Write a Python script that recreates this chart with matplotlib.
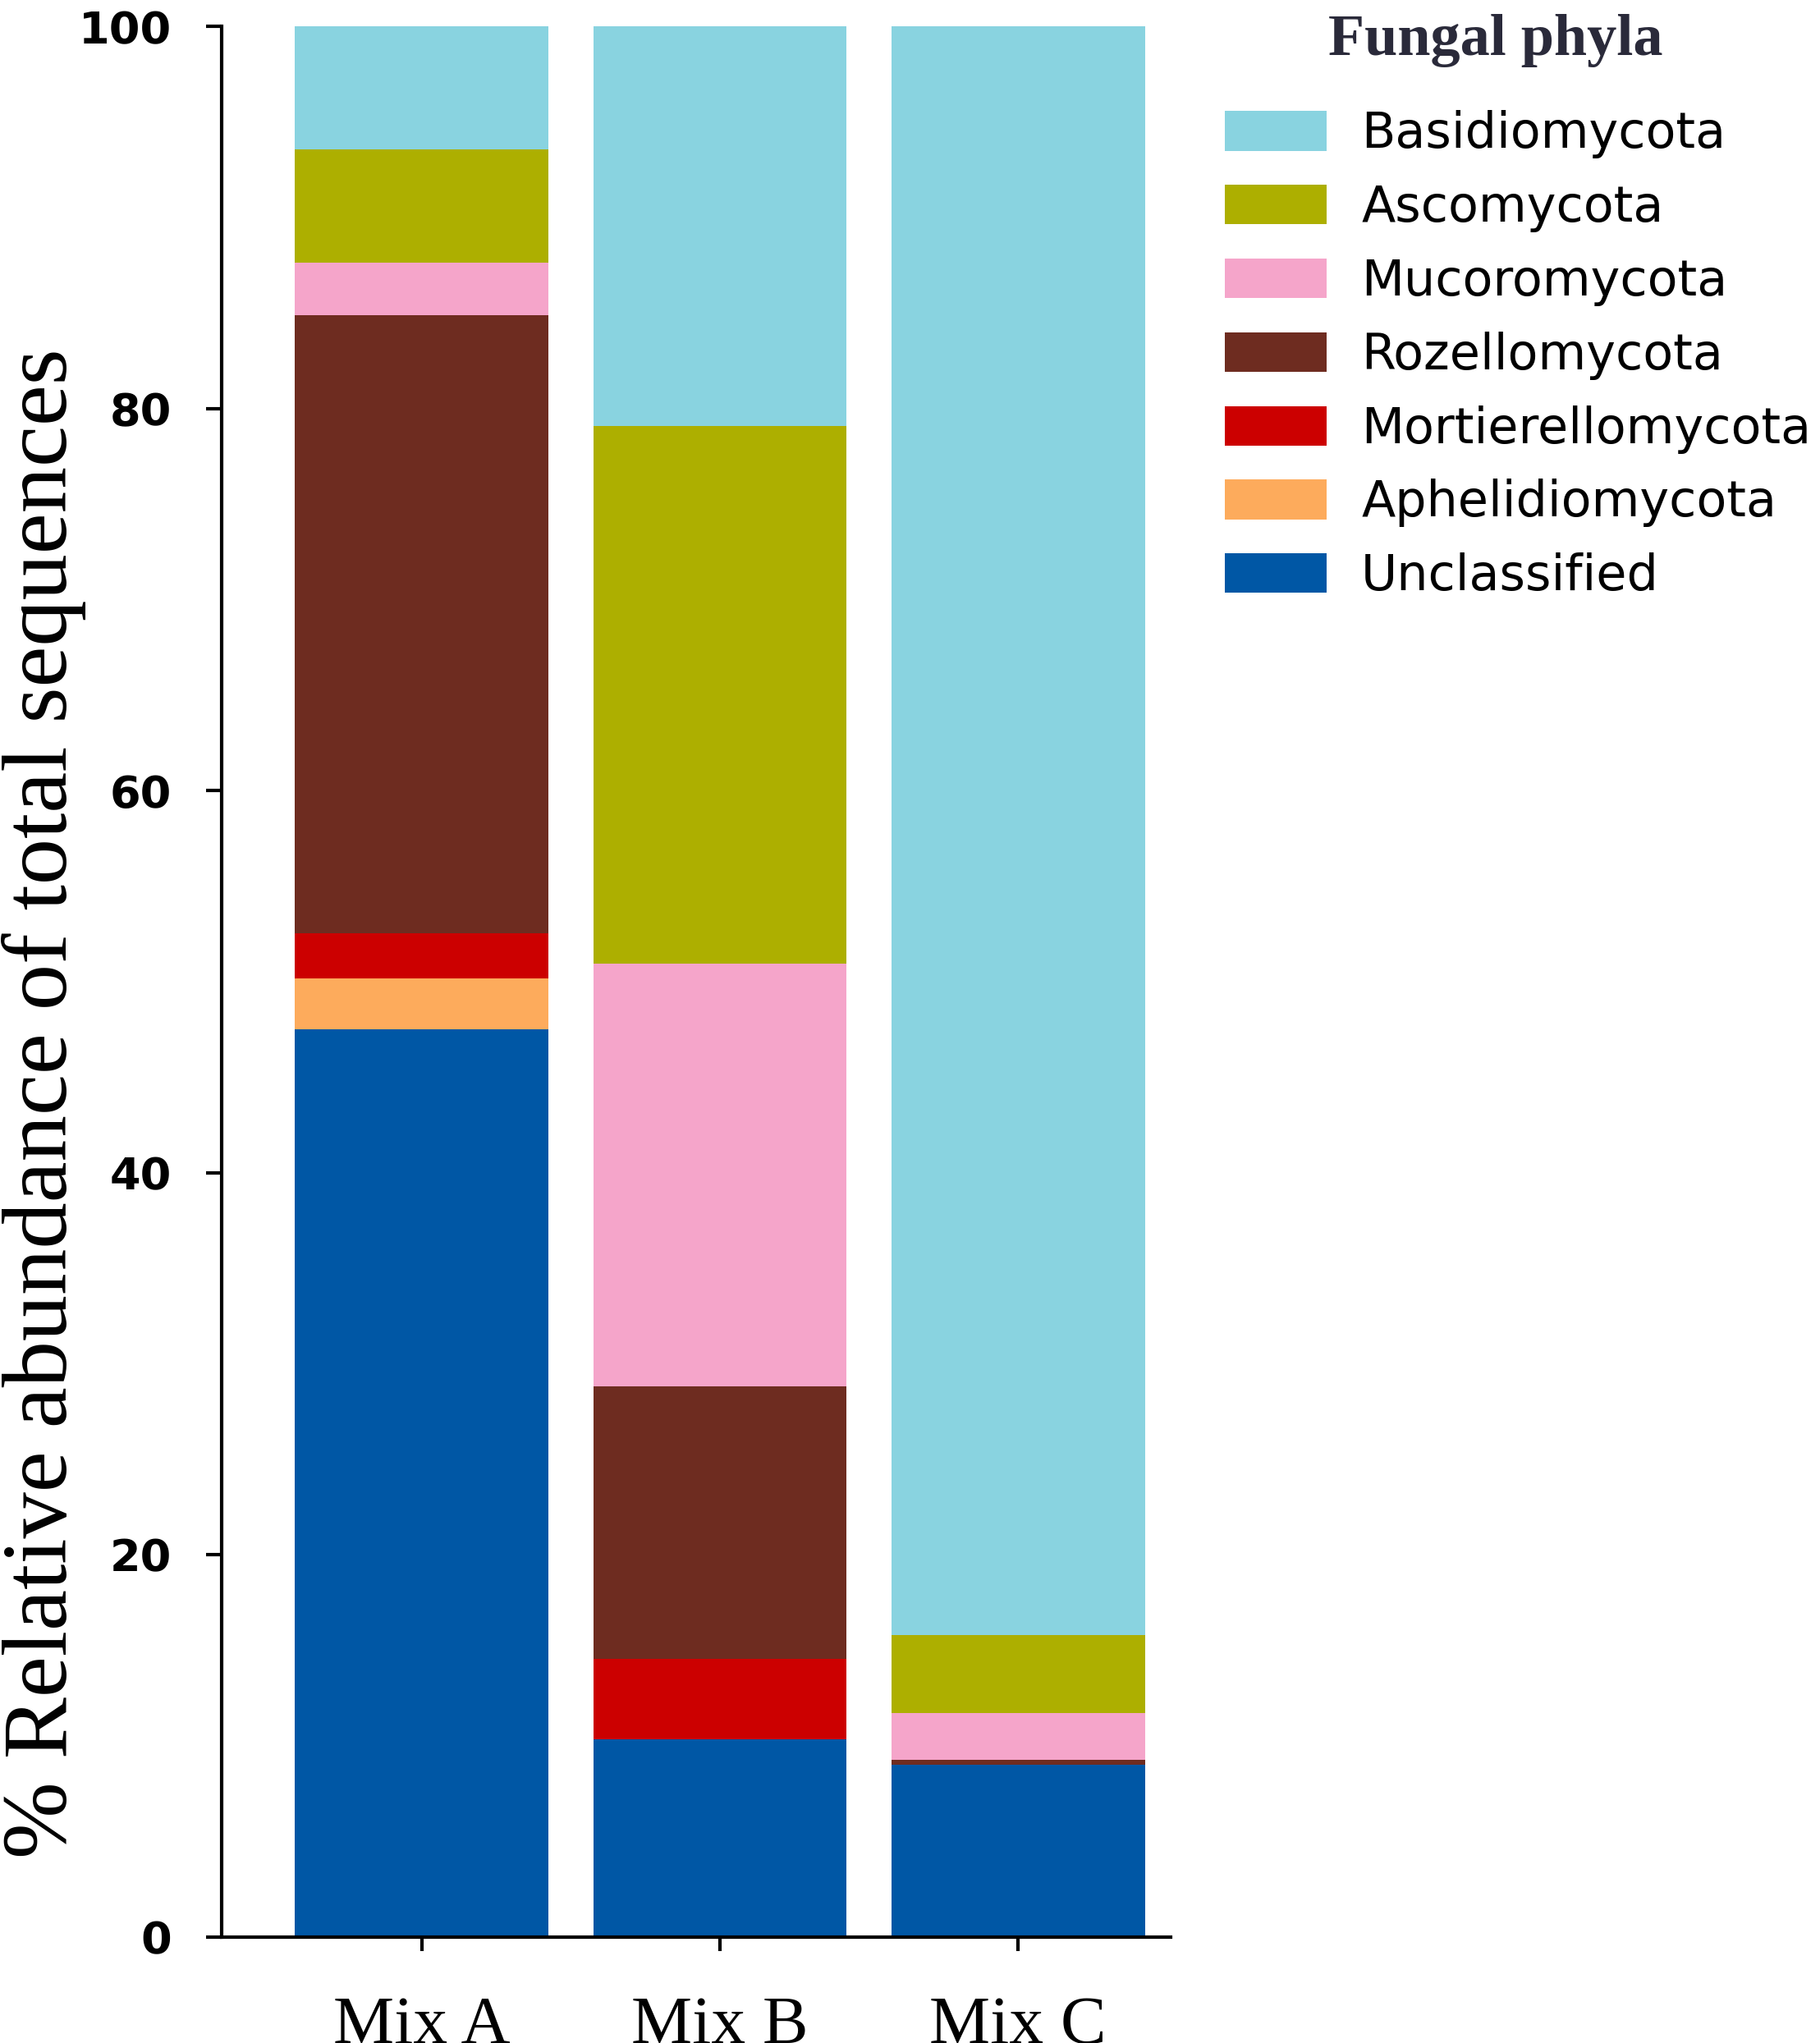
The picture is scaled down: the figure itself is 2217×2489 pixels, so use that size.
import numpy as np
import matplotlib.pyplot as plt

# Samples and phyla (stack order bottom -> top)
samples = ['Mix A', 'Mix B', 'Mix C']
phyla = ['Unclassified', 'Aphelidiomycota', 'Mortierellomycota', 'Rozellomycota',
         'Mucoromycota', 'Ascomycota', 'Basidiomycota']
colors = ['#0057A5', '#FDAB5C', '#CC0000', '#6E2C20', '#F5A5CA', '#ADAF00', '#89D3E0']

# % relative abundance
unclassified = [47.5, 10.35, 9.0]
aphelidiomycota = [2.65, 0.0, 0.0]
mortierellomycota = [2.4, 4.2, 0.0]
rozellomycota = [32.35, 14.25, 0.25]
mucoromycota = [2.75, 22.15, 2.45]
ascomycota = [5.9, 28.15, 4.1]
basidiomycota = [6.45, 20.9, 84.2]

series = [unclassified, aphelidiomycota, mortierellomycota, rozellomycota,
          mucoromycota, ascomycota, basidiomycota]

fig = plt.figure(figsize=(22.17, 24.89), dpi=100)
ax = fig.add_axes([0.122, 0.052, 0.521, 0.935])

x = np.arange(len(samples))
bottom = np.zeros(len(samples))
handles = []
for name, vals, c in zip(phyla, series, colors):
    b = ax.bar(x, vals, bottom=bottom, width=0.85, color=c, label=name, linewidth=0)
    handles.append(b)
    bottom += np.array(vals)

ax.set_xlim(-0.67, 2.51)
ax.set_ylim(0, 100)
ax.set_yticks([0, 20, 40, 60, 80, 100])
ax.set_xticks(x)
ax.set_xticklabels(samples, family='Liberation Serif', fontsize=60)
for lab in ax.get_yticklabels():
    lab.set_family('DejaVu Sans')
    lab.set_fontweight('bold')
ax.tick_params(axis='y', labelsize=39, length=14, width=3, pad=30)
ax.tick_params(axis='x', length=12, width=3, pad=40)
for s in ['top', 'right']:
    ax.spines[s].set_visible(False)
for s in ['left', 'bottom']:
    ax.spines[s].set_linewidth(3)

fig.text(0.024, 0.46, '% Relative abundance of total sequences', rotation=90,
         family='Liberation Serif', fontsize=81, ha='center', va='center')

# legend, top -> bottom order
fig.text(0.8215, 0.98, 'Fungal phyla', family='Liberation Serif', fontweight='bold',
         fontsize=52, ha='center', va='center', color='#2a2a3a')
leg = fig.legend(handles[::-1], phyla[::-1], loc='upper left',
                 bbox_to_anchor=(0.673, 0.946), frameon=False,
                 prop={'family': 'DejaVu Sans', 'size': 43.5},
                 handlelength=2.05, handleheight=0.85, handletextpad=0.7,
                 labelspacing=0.51, borderpad=0, borderaxespad=0)

fig.savefig('out.png', dpi=100)
